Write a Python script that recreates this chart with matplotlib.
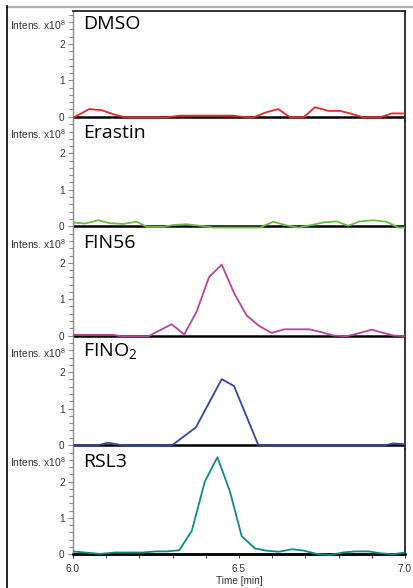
import matplotlib
matplotlib.use("Agg")
import matplotlib.pyplot as plt
from matplotlib.lines import Line2D
from matplotlib.ticker import MultipleLocator

# ---------------- data ----------------
labels = ["DMSO", "Erastin", "FIN56", "FINO$_\\mathregular{2}$", "RSL3"]
colors = ["#e8262e", "#6cbd45", "#b4459c", "#34469c", "#0f8a86"]

dmso_t = [6.000, 6.006, 6.049, 6.086, 6.121, 6.157, 6.282, 6.322, 6.482, 6.523, 6.543,
          6.578, 6.618, 6.654, 6.694, 6.729, 6.769, 6.804, 6.839, 6.874, 6.924, 6.960, 7.000]
dmso_v = [-0.04, 0.0, 0.21, 0.18, 0.07, -0.02, -0.02, 0.03, 0.03, -0.02, -0.02,
          0.11, 0.21, -0.02, -0.02, 0.26, 0.16, 0.16, 0.08, -0.02, -0.02, 0.09, 0.09]

erastin_t = [6.000, 6.036, 6.076, 6.111, 6.151, 6.192, 6.222, 6.272, 6.302, 6.342, 6.382,
             6.423, 6.563, 6.603, 6.643, 6.679, 6.719, 6.754, 6.794, 6.829, 6.864, 6.905,
             6.945, 6.980, 7.000]
erastin_v = [0.10, 0.07, 0.16, 0.08, 0.06, 0.12, -0.02, -0.02, 0.03, 0.05, 0.01,
             -0.04, -0.04, 0.12, 0.02, -0.04, 0.03, 0.10, 0.13, 0.01, 0.13, 0.16,
             0.12, -0.04, -0.04]

fin56_t = [6.000, 6.122, 6.142, 6.227, 6.297, 6.335, 6.372, 6.410, 6.448, 6.485, 6.523,
           6.561, 6.598, 6.636, 6.674, 6.712, 6.749, 6.784, 6.824, 6.864, 6.900, 6.935,
           6.965, 7.000]
fin56_v = [0.02, 0.02, -0.02, -0.02, 0.31, 0.03, 0.65, 1.61, 1.95, 1.17, 0.55,
           0.26, 0.07, 0.17, 0.17, 0.17, 0.09, 0.00, -0.02, 0.07, 0.16, 0.07,
           0.00, -0.02]

fino2_t = [6.000, 6.071, 6.106, 6.141, 6.181, 6.297, 6.370, 6.448, 6.485, 6.558, 6.600,
           6.935, 6.965, 7.000]
fino2_v = [-0.02, -0.02, 0.06, 0.00, -0.03, -0.02, 0.48, 1.81, 1.62, 0.00, -0.02,
           -0.02, 0.04, 0.02]

rsl3_t = [6.000, 6.081, 6.127, 6.210, 6.250, 6.282, 6.320, 6.358, 6.397, 6.435, 6.473,
          6.508, 6.548, 6.583, 6.620, 6.660, 6.696, 6.734, 6.774, 6.814, 6.850, 6.890,
          6.925, 6.965, 7.000]
rsl3_v = [0.08, 0.01, 0.05, 0.05, 0.08, 0.08, 0.11, 0.65, 2.00, 2.67, 1.72,
          0.50, 0.16, 0.10, 0.07, 0.14, 0.10, 0.01, -0.02, 0.05, 0.08, 0.08,
          0.03, 0.00, 0.05]

times = [dmso_t, erastin_t, fin56_t, fino2_t, rsl3_t]
values = [dmso_v, erastin_v, fin56_v, fino2_v, rsl3_v]

x_ticks = [6.0, 6.5, 7.0]
x_tick_labels = ["6.0", "6.5", "7.0"]
y_ticks = [0, 1, 2]

# ---------------- figure ----------------
W, H = 414, 588
fig = plt.figure(figsize=(W / 100, H / 100), dpi=100)

left = 73 / W
right = 405 / W
top_px = 11.3
panel_px = 109.4
ymin, ymax = -0.11, 2.9

small_font = ["Liberation Sans", "DejaVu Sans"]
big_font = ["Open Sans", "DejaVu Sans"]
spine_gray = "#8a8a8a"

axes = []
for i in range(5):
    top = top_px + i * panel_px
    bottom = top + panel_px
    ax = fig.add_axes([left, 1 - bottom / H, right - left, panel_px / H])
    axes.append(ax)
    ax.plot(times[i], values[i], color=colors[i], lw=1.3, zorder=3, clip_on=True)
    ax.axhline(0, color="black", lw=1.8, zorder=2)
    ax.set_xlim(6.0, 7.0)
    ax.set_ylim(ymin, ymax)

    ax.spines["left"].set_color(spine_gray)
    ax.spines["left"].set_linewidth(1.0)
    ax.spines["right"].set_color("#222222")
    ax.spines["right"].set_linewidth(1.3)
    ax.spines["top"].set_visible(i == 0)
    ax.spines["top"].set_color("#222222")
    ax.spines["top"].set_linewidth(1.3)

    ax.yaxis.set_major_locator(MultipleLocator(1))
    ax.yaxis.set_minor_locator(MultipleLocator(0.2))
    ax.set_yticks(y_ticks)
    ax.set_yticklabels([str(v) for v in y_ticks])
    ax.tick_params(axis="y", which="major", length=3.5, width=0.8, color=spine_gray,
                   pad=2.5, labelsize=7.2, labelcolor="#333333")
    ax.tick_params(axis="y", which="minor", length=2.8, width=0.8, color=spine_gray)
    for lab in ax.get_yticklabels():
        lab.set_fontfamily(small_font)

    ax.text(-0.02, 0.875, "Intens. x10$^\\mathregular{8}$", transform=ax.transAxes,
            ha="right", va="center", fontsize=7.4, color="#333333", family=small_font)
    ax.text(0.030, 0.884, labels[i], transform=ax.transAxes, ha="left", va="center",
            fontsize=14, color="black", family=big_font)

    if i < 4:
        ax.spines["bottom"].set_visible(False)
        ax.set_xticks([])
    else:
        ax.spines["bottom"].set_position(("data", 0))
        ax.spines["bottom"].set_color("black")
        ax.spines["bottom"].set_linewidth(1.8)
        ax.spines["left"].set_bounds(0, ymax)
        ax.spines["right"].set_bounds(0, ymax)
        ax.set_xticks(x_ticks)
        ax.set_xticklabels(x_tick_labels)
        ax.xaxis.set_minor_locator(MultipleLocator(0.1))
        ax.tick_params(axis="x", which="both", direction="out", length=3.2, width=0.8,
                       color="#444444", pad=3.5, labelsize=7.3, labelcolor="#333333")
        for lab in ax.get_xticklabels():
            lab.set_fontfamily(small_font)
        ax.set_xlabel("Time [min]", fontsize=7.2, color="#333333", family=small_font,
                      labelpad=1.5)

# outer frame lines (screenshot border)
fig.add_artist(Line2D([7 / W, 1.0], [1 - 6.8 / H, 1 - 6.8 / H], color="#b0b0b0",
                      lw=1.6, transform=fig.transFigure))
fig.add_artist(Line2D([7.5 / W, 7.5 / W], [0.0, 1 - 6.0 / H], color="black",
                      lw=1.2, transform=fig.transFigure))

fig.savefig("out.png", dpi=100)
